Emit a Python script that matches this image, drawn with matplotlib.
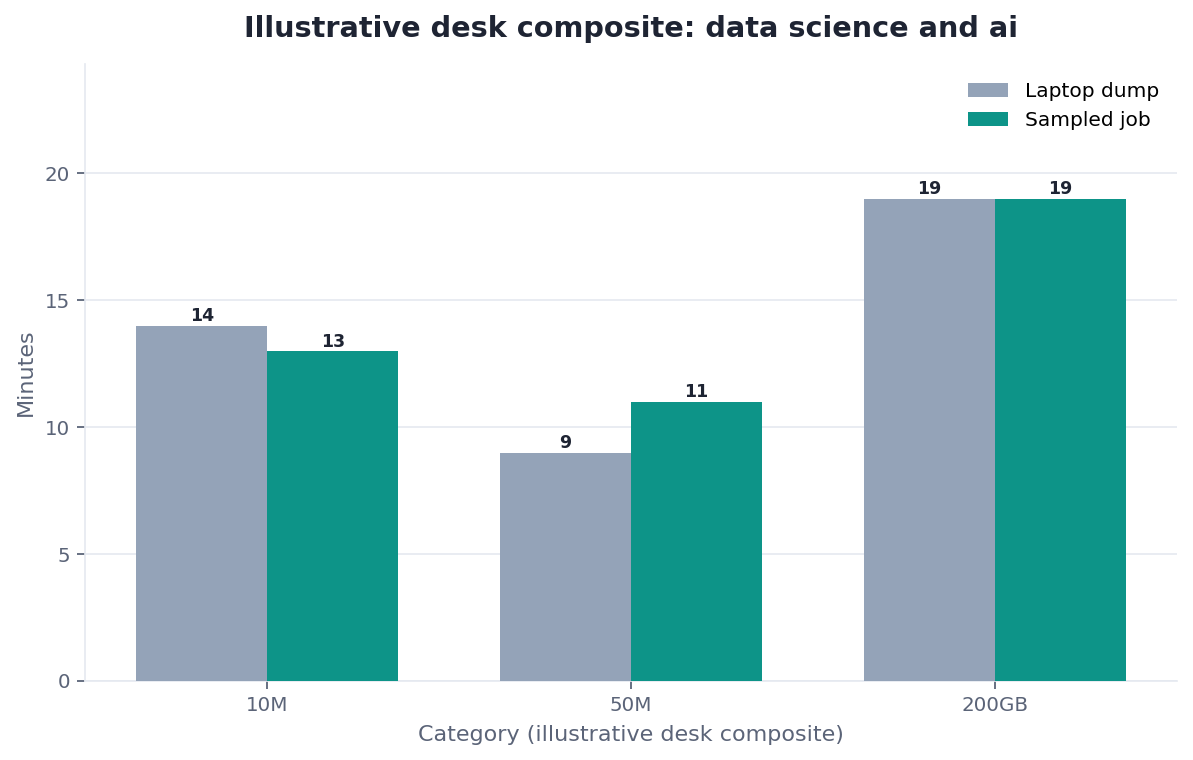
import matplotlib
matplotlib.use("Agg")
import matplotlib.pyplot as plt
import numpy as np

categories = ["10M", "50M", "200GB"]
laptop_dump = [14, 9, 19]
sampled_job = [13, 11, 19]
series_names = ["Laptop dump", "Sampled job"]

c_gray = "#94A3B8"
c_teal = "#0D9488"
tick_col = "#5B6478"
grid_col = "#E5E9F0"

fig = plt.figure(figsize=(11.93, 7.6), dpi=100)
ax = fig.add_axes([0.0715, 0.104, 0.915, 0.812])

x = np.arange(len(categories))
w = 0.36
b1 = ax.bar(x - w/2, laptop_dump, w, color=c_gray, label=series_names[0], zorder=3)
b2 = ax.bar(x + w/2, sampled_job, w, color=c_teal, label=series_names[1], zorder=3)

for bars in (b1, b2):
    ax.bar_label(bars, labels=[f"{v:g}" for v in bars.datavalues], padding=0.3,
                 fontsize=12.5, fontweight="bold", color="#1E2433")

ax.set_xlim(-0.5, 2.5)
ax.set_ylim(0, max(laptop_dump + sampled_job) * 1.28)
ax.set_yticks([0, 5, 10, 15, 20])
ax.set_xticks(x)
ax.set_xticklabels(categories)

ax.yaxis.grid(True, color=grid_col, linewidth=1.2, zorder=0)
ax.set_axisbelow(True)
for s in ("top", "right"):
    ax.spines[s].set_visible(False)
for s in ("left", "bottom"):
    ax.spines[s].set_color(grid_col)
    ax.spines[s].set_linewidth(1.2)

ax.tick_params(axis="both", colors=tick_col, labelsize=14.3, length=6, width=1.3, pad=5)
ax.set_xlabel("Category (illustrative desk composite)", fontsize=16, color=tick_col, labelpad=7)
ax.set_ylabel("Minutes", fontsize=16, color=tick_col, labelpad=6.5)
ax.set_title("Illustrative desk composite: data science and ai", fontsize=20.7,
             fontweight="bold", color="#1E2433", pad=19)

leg = ax.legend(loc="upper right", frameon=False, fontsize=14.5, handlelength=2.0,
                borderaxespad=0.5)

fig.savefig("out.png", dpi=100)
